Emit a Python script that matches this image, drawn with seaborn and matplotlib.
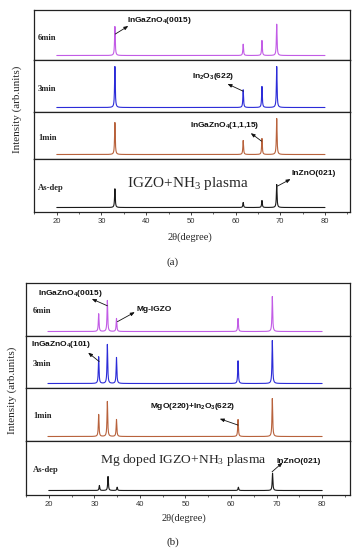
import numpy as np
import pandas as pd
import matplotlib
matplotlib.use('Agg')
import matplotlib.pyplot as plt
import seaborn as sns

# ---- data (peak positions in 2theta, heights in a.u.) ----
samples = ["6min", "3min", "1min", "As-dep"]

peaks_a = [33.0, 61.7, 65.9, 69.2]
heights_a = {
    "6min":   [2900, 1130, 1500, 3130],
    "3min":   [4100, 1770, 2100, 4100],
    "1min":   [3200, 1400, 1600, 3600],
    "As-dep": [1870, 500, 700, 2300],
}

peaks_b = [31.1, 33.0, 35.0, 61.6, 69.1]
heights_b = {
    "6min":   [1770, 3100, 1300, 1300, 3500],
    "3min":   [2670, 3900, 2600, 2270, 4300],
    "1min":   [2200, 3500, 1700, 1700, 3800],
    "As-dep": [500, 1400, 330, 330, 1730],
}

colors = {"6min": "#c25ce6", "3min": "#2c2cd8", "1min": "#b8623c", "As-dep": "#1a1a1a"}

two_theta = np.arange(20, 80.001, 0.02)


def spectrum(centers, heights):
    y = np.zeros_like(two_theta)
    for c, h in zip(centers, heights):
        y += h / (1 + ((two_theta - c) / 0.09) ** 2)
    return y


sns.set_style("ticks")
plt.rcParams['font.family'] = ['Liberation Serif', 'DejaVu Serif']
plt.rcParams['mathtext.default'] = 'regular'

W, H = 352, 550
fig = plt.figure(figsize=(3.52, 5.50), dpi=100)


def rect(left, right, top, bottom):
    return [left / W, 1 - bottom / H, (right - left) / W, (bottom - top) / H]


def draw_panel(left, right, edges, xlim, peaks, heights, lab_x, lab_y):
    axes = []
    for i, s in enumerate(samples):
        top, bottom = edges[i], edges[i + 1]
        ax = fig.add_axes(rect(left, right, top, bottom))
        df = pd.DataFrame({"two_theta": two_theta, "intensity": spectrum(peaks, heights[s])})
        sns.lineplot(data=df, x="two_theta", y="intensity", ax=ax, color=colors[s], linewidth=0.8)
        ax.set_xlim(*xlim)
        ax.set_ylim(-450, (bottom - top - 4.5) * 100)
        ax.set_xlabel("")
        ax.set_ylabel("")
        ax.set_yticks([])
        for sp in ax.spines.values():
            sp.set_linewidth(0.9)
            sp.set_color("#222222")
        ax.text(lab_x, lab_y, s, transform=ax.transAxes, fontsize=6.2, fontweight='bold',
                va='center', ha='left')
        if i < 3:
            ax.tick_params(bottom=False, labelbottom=False)
        else:
            ax.set_xticks(np.arange(20, 81, 10))
            ax.set_xticks(np.arange(15, 86, 5), minor=True)
            ax.tick_params(axis='x', which='major', direction='out', length=2.5, width=0.6,
                           pad=2, labelsize=5.5, labelcolor='#333333')
            ax.tick_params(axis='x', which='minor', direction='out', length=1.5, width=0.5)
            for t in ax.get_xticklabels():
                t.set_family('Liberation Sans')
        axes.append(ax)
    return axes


def note(ax, text, tx, ty, head, tail):
    ax.text(tx, ty, text, transform=ax.get_xaxis_transform(), fontsize=6, fontweight='bold',
            family='Liberation Sans', va='center', ha='left', color='#111111')
    ax.annotate('', xy=head, xytext=tail, xycoords=('data', 'axes fraction'),
                textcoords=('data', 'axes fraction'),
                arrowprops=dict(arrowstyle='-|>,head_length=0.25,head_width=0.1',
                                color='#111111', lw=0.6, shrinkA=0, shrinkB=0))


# ---- panel (a) ----
ax_a = draw_panel(34, 350, [10, 60, 112, 159, 212], (14.9, 85.6), peaks_a, heights_a, 0.013, 0.45)
note(ax_a[0], "InGaZnO$_4$(0015)", 35.6, 0.80, (36.0, 0.68), (33.1, 0.52))
note(ax_a[1], "In$_2$O$_3$(622)", 50.3, 0.68, (58.2, 0.54), (61.7, 0.40))
note(ax_a[2], "InGaZnO$_4$(1,1,15)", 49.9, 0.72, (63.4, 0.55), (65.8, 0.38))
note(ax_a[3], "InZnO(021)", 72.5, 0.73, (72.3, 0.62), (69.4, 0.49))
ax_a[3].text(49.3, 0.54, "IGZO+NH$_3$ plasma", transform=ax_a[3].get_xaxis_transform(),
             fontsize=11, ha='center', va='center')

fig.text(17 / W, 1 - 109 / H, "Intensity (arb.units)", rotation=90, fontsize=8,
         ha='center', va='center')
fig.text(190 / W, 1 - 237 / H, "2θ(degree)", fontsize=7.5, ha='center', va='center')
fig.text(173 / W, 1 - 262 / H, "(a)", fontsize=8, ha='center', va='center')

# ---- panel (b) ----
ax_b = draw_panel(26, 350, [283, 336, 388, 441, 495], (15.2, 86.1), peaks_b, heights_b, 0.022, 0.47)
note(ax_b[0], "InGaZnO$_4$(0015)", 17.9, 0.81, (29.6, 0.70), (33.0, 0.57))
note(ax_b[0], "Mg-IGZO", 39.3, 0.50, (39.0, 0.45), (35.2, 0.27))
note(ax_b[1], "InGaZnO$_4$(101)", 16.4, 0.83, (28.8, 0.68), (31.2, 0.51))
note(ax_b[2], "MgO(220)+In$_2$O$_3$(622)", 42.3, 0.65, (57.6, 0.42), (61.6, 0.30))
note(ax_b[3], "InZnO(021)", 70.0, 0.62, (71.3, 0.60), (69.0, 0.43))
ax_b[3].text(49.6, 0.65, "Mg doped IGZO+NH$_3$ plasma", transform=ax_b[3].get_xaxis_transform(),
             fontsize=9.7, ha='center', va='center')

fig.text(12 / W, 1 - 390 / H, "Intensity (arb.units)", rotation=90, fontsize=8,
         ha='center', va='center')
fig.text(184 / W, 1 - 518 / H, "2θ(degree)", fontsize=7.5, ha='center', va='center')
fig.text(173 / W, 1 - 542 / H, "(b)", fontsize=8, ha='center', va='center')

fig.savefig("out.png", dpi=100)
